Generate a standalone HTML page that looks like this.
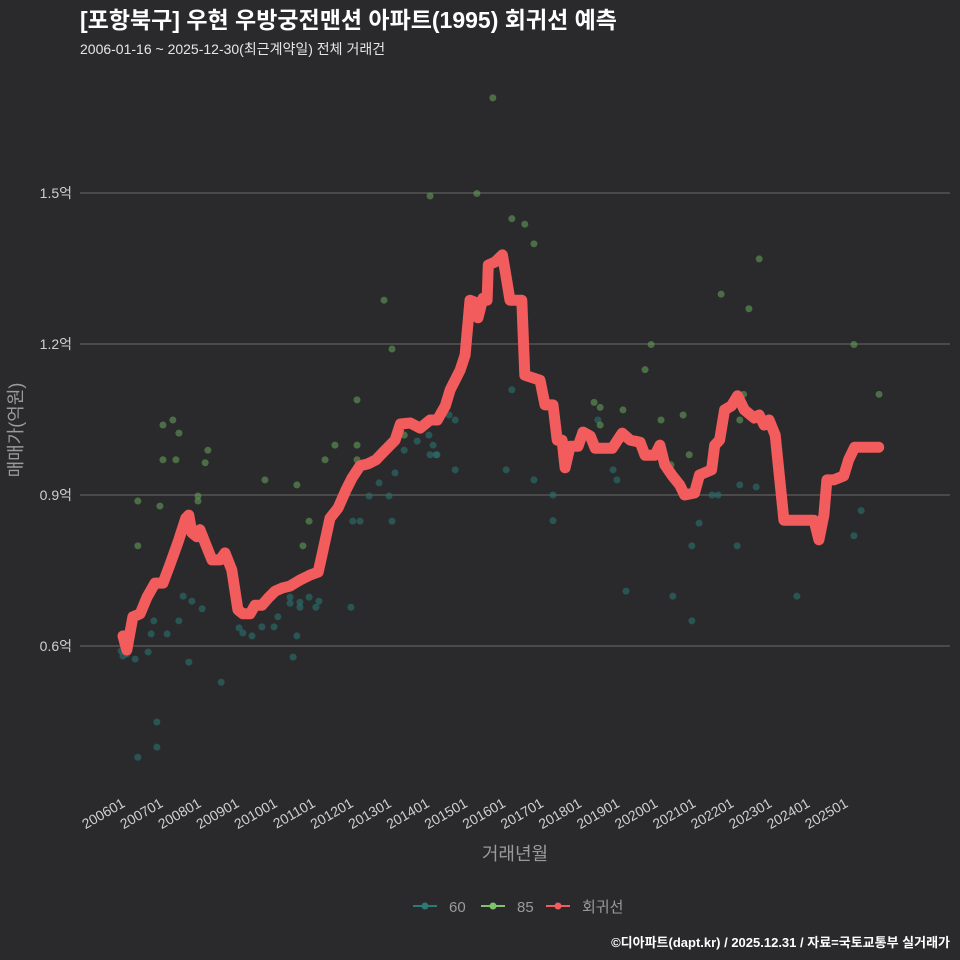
<!DOCTYPE html>
<html><head><meta charset="utf-8">
<style>
body{margin:0;background:#2a2a2c;}
svg{display:block;font-family:"Liberation Sans","Noto Sans CJK KR",sans-serif;}
</style></head>
<body>
<svg id="chart" width="960" height="960" viewBox="0 0 960 960">
<rect width="960" height="960" fill="#2a2a2c"/>
<text x="80" y="28" fill="#ffffff" font-size="23" font-weight="bold">[포항북구] 우현 우방궁전맨션 아파트(1995) 회귀선 예측</text>
<text x="80" y="54" fill="#e6e6e6" font-size="14">2006-01-16 ~ 2025-12-30(최근계약일) 전체 거래건</text>
<g id="grid"></g>
<g id="yticks"></g>
<g id="xticks"></g>
<g id="pts60"></g>
<g id="pts85"></g>
<path id="regline" fill="none" stroke="#f25c5c" stroke-width="11" stroke-linejoin="round" stroke-linecap="round"/>
<text x="515" y="860" text-anchor="middle" fill="#9a9a9a" font-size="18">거래년월</text>
<text transform="translate(22,430) rotate(-90)" text-anchor="middle" fill="#9a9a9a" font-size="18">매매가(억원)</text>
<g>
<g><line x1="413" y1="906" x2="437" y2="906" stroke="#2b7a78" stroke-width="2"/><circle cx="425" cy="906" r="3.5" fill="#2b7a78"/><text x="449" y="912" fill="#9a9a9a" font-size="15">60</text></g>
<g><line x1="481" y1="906" x2="505" y2="906" stroke="#7cc36a" stroke-width="2"/><circle cx="493" cy="906" r="3.5" fill="#7cc36a"/><text x="517" y="912" fill="#9a9a9a" font-size="15">85</text></g>
<g><line x1="546" y1="906" x2="570" y2="906" stroke="#f25c5c" stroke-width="2"/><circle cx="558" cy="906" r="3.5" fill="#f25c5c"/><text x="582" y="912" fill="#9a9a9a" font-size="15">회귀선</text></g>
</g>
<text x="950" y="947" text-anchor="end" fill="#ffffff" font-size="13" font-weight="bold">©디아파트(dapt.kr) / 2025.12.31 / 자료=국토교통부 실거래가</text>
</svg>
<script>
const yTicks=[0.6,0.9,1.2,1.5];
const yTickLabels=["0.6억","0.9억","1.2억","1.5억"];
const xTickYears=[2006,2007,2008,2009,2010,2011,2012,2013,2014,2015,2016,2017,2018,2019,2020,2021,2022,2023,2024,2025];
const xTickLabels=["200601","200701","200801","200901","201001","201101","201201","201301","201401","201501","201601","201701","201801","201901","202001","202101","202201","202301","202401","202501"];
const lineT=[2006.00,2006.10,2006.26,2006.45,2006.63,2006.84,2007.05,2007.23,2007.44,2007.65,2007.73,2007.81,2007.94,2008.02,2008.18,2008.34,2008.55,2008.68,2008.86,2009.02,2009.15,2009.34,2009.47,2009.65,2009.81,2010.00,2010.18,2010.39,2010.65,2010.92,2011.13,2011.26,2011.44,2011.65,2011.86,2012.02,2012.23,2012.44,2012.65,2012.89,2013.15,2013.29,2013.55,2013.81,2014.07,2014.26,2014.47,2014.60,2014.86,2014.99,2015.12,2015.25,2015.33,2015.46,2015.57,2015.60,2015.78,2015.97,2016.04,2016.17,2016.48,2016.56,2016.96,2017.09,2017.30,2017.41,2017.54,2017.62,2017.75,2017.96,2018.09,2018.28,2018.41,2018.86,2019.12,2019.33,2019.59,2019.72,2019.98,2020.11,2020.24,2020.42,2020.63,2020.76,2021.02,2021.15,2021.47,2021.55,2021.68,2021.81,2021.99,2022.15,2022.33,2022.59,2022.72,2022.85,2022.98,2023.14,2023.37,2024.16,2024.29,2024.42,2024.50,2024.68,2024.94,2025.07,2025.23,2025.86];
const lineV=[0.620,0.592,0.658,0.664,0.697,0.725,0.725,0.761,0.805,0.854,0.860,0.825,0.817,0.831,0.801,0.771,0.771,0.785,0.751,0.672,0.664,0.664,0.681,0.681,0.695,0.709,0.715,0.719,0.731,0.741,0.747,0.791,0.854,0.874,0.910,0.934,0.958,0.962,0.970,0.989,1.009,1.041,1.043,1.033,1.049,1.049,1.077,1.109,1.148,1.178,1.287,1.283,1.252,1.291,1.287,1.357,1.363,1.377,1.347,1.287,1.287,1.138,1.128,1.079,1.079,1.009,1.009,0.954,0.997,0.997,1.025,1.017,0.993,0.993,1.023,1.009,1.005,0.979,0.979,0.999,0.960,0.940,0.920,0.900,0.904,0.940,0.950,0.999,1.009,1.069,1.077,1.097,1.069,1.053,1.059,1.039,1.049,1.019,0.850,0.850,0.811,0.860,0.930,0.930,0.938,0.970,0.995,0.995];
const s85T=[2007.05,2007.31,2007.47,2007.05,2007.39,2008.23,2008.16,2006.39,2006.97,2007.97,2007.97,2006.39,2012.15,2011.57,2012.15,2011.31,2012.15,2009.73,2010.57,2010.89,2010.73,2013.39,2012.86,2013.07,2015.72,2014.07,2015.30,2016.22,2016.56,2016.80,2022.72,2021.72,2022.45,2019.88,2025.21,2019.72,2025.87,2022.31,2018.38,2018.54,2019.14,2020.72,2020.14,2018.54,2020.88,2020.40,2022.21];
const s85V=[1.039,1.049,1.023,0.970,0.970,0.989,0.964,0.888,0.878,0.898,0.888,0.799,1.089,0.999,0.999,0.970,0.970,0.930,0.920,0.848,0.799,1.019,1.287,1.190,1.689,1.494,1.499,1.449,1.438,1.399,1.369,1.299,1.270,1.199,1.199,1.149,1.100,1.100,1.084,1.074,1.069,1.059,1.049,1.039,0.980,0.960,1.049];
const s60T=[2006.00,2006.32,2006.66,2006.74,2006.81,2007.16,2007.47,2007.58,2007.81,2008.08,2007.73,2008.58,2006.89,2006.89,2006.39,2009.05,2009.15,2009.39,2009.65,2009.97,2010.07,2010.57,2010.47,2010.39,2010.39,2010.65,2010.65,2010.89,2011.07,2011.15,2011.99,2012.04,2012.23,2012.47,2012.73,2012.99,2013.07,2013.15,2013.39,2013.73,2014.04,2014.15,2014.25,2014.57,2014.73,2014.73,2016.22,2014.07,2014.23,2016.07,2016.80,2017.30,2017.30,2018.48,2018.88,2018.98,2019.22,2020.45,2020.95,2020.95,2021.14,2021.48,2021.64,2022.21,2022.64,2022.14,2023.71,2025.21,2025.40,2005.95,2006.10];
const s60V=[0.580,0.574,0.588,0.624,0.650,0.624,0.650,0.699,0.689,0.674,0.568,0.528,0.449,0.399,0.379,0.636,0.626,0.620,0.638,0.638,0.658,0.620,0.578,0.697,0.685,0.687,0.677,0.697,0.677,0.689,0.677,0.848,0.848,0.898,0.924,0.898,0.848,0.944,0.989,1.007,1.019,0.999,0.980,1.059,1.049,0.950,1.109,0.980,0.980,0.950,0.930,0.900,0.849,1.049,0.950,0.930,0.709,0.699,0.650,0.799,0.844,0.900,0.900,0.920,0.916,0.799,0.699,0.819,0.869,0.590,0.584];

const NS="http://www.w3.org/2000/svg";
function xS(t){return 123+(t-2006)*38.05;}
function yS(v){return 646-(v-0.6)/0.3*151;}
function mk(tag,attrs,parent){const e=document.createElementNS(NS,tag);for(const k in attrs)e.setAttribute(k,attrs[k]);parent.appendChild(e);return e;}

const grid=document.getElementById('grid'),yt=document.getElementById('yticks'),xt=document.getElementById('xticks');
yTicks.forEach((v,i)=>{
  const l=mk('line',{x1:80,x2:950,y1:yS(v),y2:yS(v),stroke:'#5e5e5e','stroke-width':1.3},grid);
  
  
  const t=mk('text',{x:72,y:yS(v)+5,'text-anchor':'end',fill:'#cfcfcf','font-size':14},yt);
  t.textContent=yTickLabels[i];
  
  
});
xTickYears.forEach((yr,i)=>{
  const x=xS(yr);
  const t=mk('text',{transform:`translate(${x+3},${806}) rotate(-30)`,'text-anchor':'end',fill:'#cfcfcf','font-size':14},xt);
  t.textContent=xTickLabels[i];
  
  
});
const g60=document.getElementById('pts60'),g85=document.getElementById('pts85');
s60T.forEach((t,i)=>{
  const c=mk('circle',{cx:xS(t),cy:yS(s60V[i]),r:3.5,fill:'#2b6d6b','fill-opacity':0.65},g60);
  
  
});
s85T.forEach((t,i)=>{
  const c=mk('circle',{cx:xS(t),cy:yS(s85V[i]),r:3.5,fill:'#5f9454','fill-opacity':0.65},g85);
  
  
});
document.getElementById('regline').setAttribute('d',lineT.map((t,i)=>(i?'L':'M')+xS(t).toFixed(1)+','+yS(lineV[i]).toFixed(1)).join(''));
</script>
</body></html>
